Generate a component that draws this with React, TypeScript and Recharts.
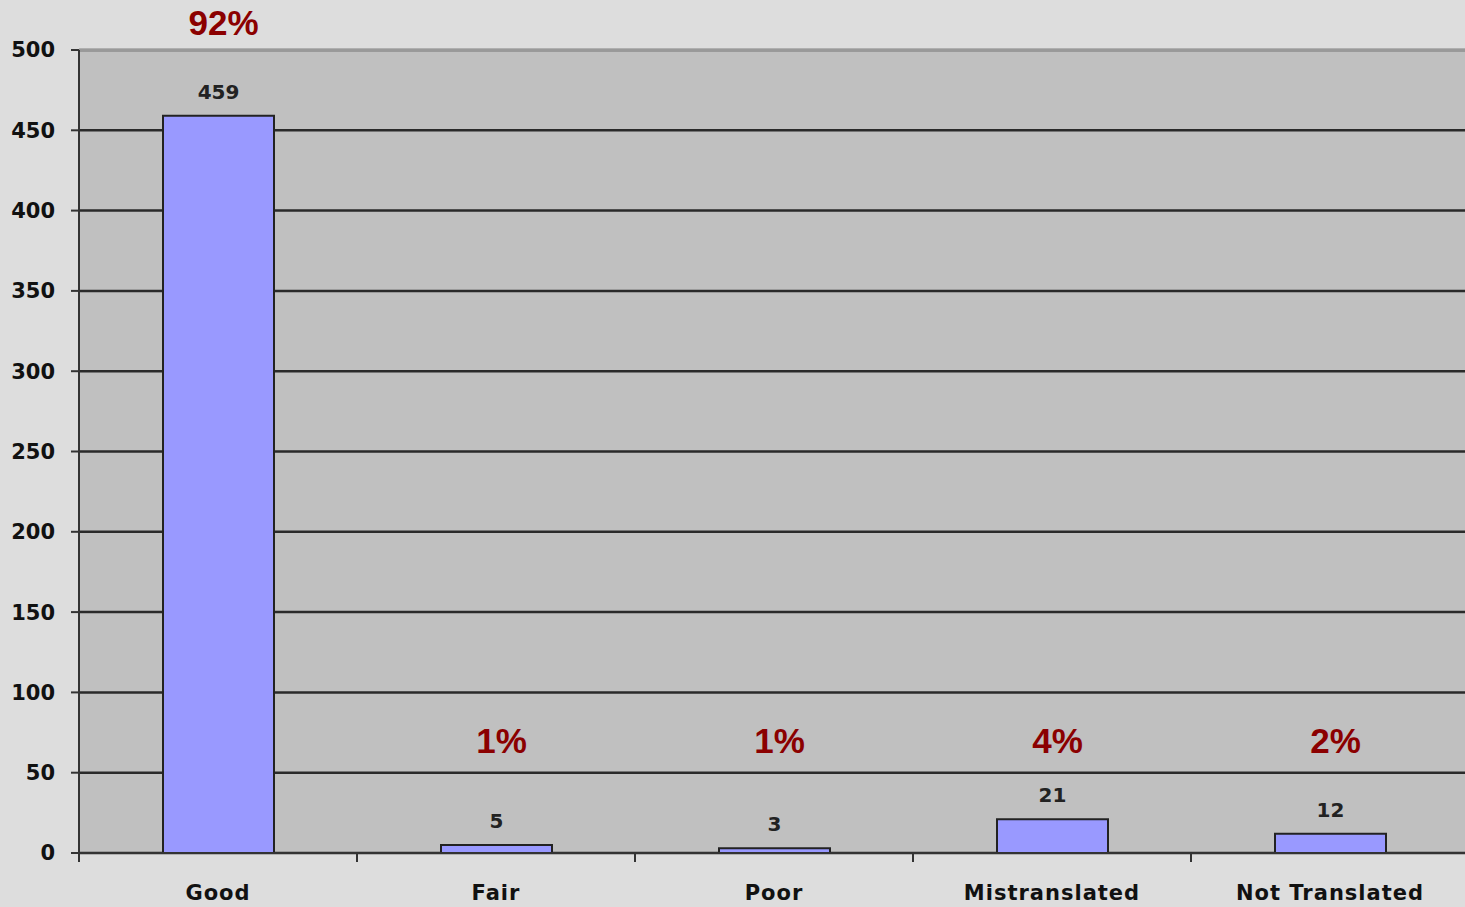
import React from 'react';
import { BarChart, Bar, XAxis, YAxis, CartesianGrid, ReferenceLine, LabelList } from 'recharts';

const ratings = ['Good', 'Fair', 'Poor', 'Mistranslated', 'Not Translated'];
const counts = [459, 5, 3, 21, 12];
const shares = ['92%', '1%', '1%', '4%', '2%'];
const yTicks = [0, 50, 100, 150, 200, 250, 300, 350, 400, 450, 500];

const data = ratings.map((name, i) => ({ name, count: counts[i], share: shares[i] }));

const CHART_W = 1469;
const CHART_H = 907;
const Y_AXIS_W = 79;
const HALF_BAND = (CHART_W - Y_AXIS_W) / ratings.length / 2;

const CategoryTick = (props: any) => {
  const { x, y, payload } = props;
  return (
    <g>
      <line x1={x - HALF_BAND} y1={y} x2={x - HALF_BAND} y2={y + 9} stroke="#333" strokeWidth={2} />
      <text
        x={x}
        y={y + 47}
        textAnchor="middle"
        fill="#111"
        fontFamily="DejaVu Sans"
        fontWeight="bold"
        fontSize={21}
        letterSpacing={1}
      >
        {payload.value}
      </text>
    </g>
  );
};

// percentage sits high above the tall bar, and at a common level over the short ones
const ShareLabel = (props: any) => {
  const { x, y, width, height, value, index } = props;
  const count = counts[index];
  const pxPerUnit = count > 0 ? height / count : 0;
  const level = count > 100 ? count + 58 : 70;
  const base = y + height;
  return (
    <text
      x={x + width / 2 + 5}
      y={base - level * pxPerUnit + 12}
      textAnchor="middle"
      fill="#8b0000"
      fontFamily="Liberation Sans"
      fontWeight="bold"
      fontSize={35}
    >
      {value}
    </text>
  );
};

export default function App() {
  return (
    <div
      style={{
        position: 'absolute',
        left: 0,
        top: 0,
        width: 1465,
        height: 907,
        overflow: 'hidden',
        background: '#dddddd',
      }}
    >
      <BarChart width={CHART_W} height={CHART_H} data={data} margin={{ top: 50, right: 0, bottom: 0, left: 0 }}>
        <CartesianGrid vertical={false} stroke="#2a2a2a" strokeWidth={2.5} fill="#c0c0c0" />
        <ReferenceLine y={500} stroke="#999" strokeWidth={2} />
        <XAxis
          dataKey="name"
          height={54}
          tickLine={false}
          tickSize={0}
          tickMargin={0}
          axisLine={{ stroke: '#333', strokeWidth: 2 }}
          tick={<CategoryTick />}
          interval={0}
        />
        <YAxis
          width={Y_AXIS_W}
          domain={[0, 500]}
          ticks={yTicks}
          interval={0}
          tickSize={8}
          tickMargin={16}
          axisLine={{ stroke: '#333', strokeWidth: 2 }}
          tickLine={{ stroke: '#333', strokeWidth: 2 }}
          tick={{ fill: '#111', fontFamily: 'DejaVu Sans', fontWeight: 'bold', fontSize: 21 }}
        />
        <Bar dataKey="count" fill="#9999ff" stroke="#222" strokeWidth={2} barSize={111} isAnimationActive={false}>
          <LabelList
            dataKey="count"
            position="top"
            offset={17}
            fill="#222"
            fontFamily="DejaVu Sans"
            fontWeight="bold"
            fontSize={20}
          />
          <LabelList dataKey="share" content={<ShareLabel />} />
        </Bar>
      </BarChart>
    </div>
  );
}
